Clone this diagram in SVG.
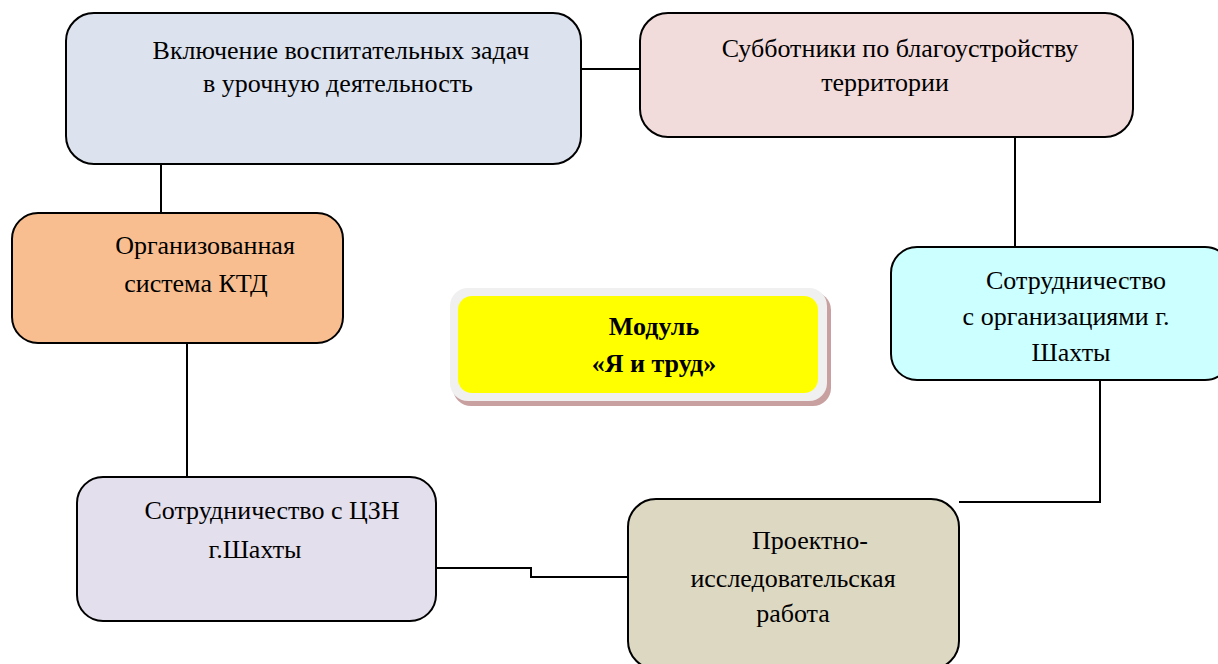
<svg xmlns="http://www.w3.org/2000/svg" width="1218" height="664" viewBox="0 0 1218 664">
<style>
.box{stroke:#000;stroke-width:2}
.t{font-family:"Liberation Serif","Times New Roman",serif;font-size:26px;fill:#000;text-anchor:middle}
.b{font-weight:bold;font-size:26px}
.c{fill:none;stroke:#000;stroke-width:2}
</style>
<rect width="1218" height="664" fill="#fff"/>
<g id="connectors">
<path class="c" d="M581 69H640"/>
<path class="c" d="M161 164V213"/>
<path class="c" d="M1015 137V247"/>
<path class="c" d="M187 343V477"/>
<path class="c" d="M436 568H531V577H628"/>
<path class="c" d="M959 502H1100V380"/>
</g>
<g id="n1">
<rect class="box" x="66" y="13" width="515" height="151" rx="28" fill="#dce3ef"/>
<text class="t" x="341" y="59">Включение воспитательных задач</text>
<text class="t" x="338" y="92">в урочную деятельность</text>
</g>
<g id="n2">
<rect class="box" x="640" y="13" width="493" height="124" rx="28" fill="#f2dcdb"/>
<text class="t" x="900" y="57">Субботники по благоустройству</text>
<text class="t" x="885" y="91">территории</text>
</g>
<g id="n3">
<rect class="box" x="12" y="213" width="331" height="130" rx="26" fill="#f8be90"/>
<text class="t" x="205" y="254">Организованная</text>
<text class="t" x="196" y="292">система КТД</text>
</g>
<g id="n4">
<rect class="box" x="891" y="247" width="340" height="133" rx="26" fill="#ccffff"/>
<text class="t" x="1076" y="289">Сотрудничество</text>
<text class="t" x="1066" y="325">с организациями г.</text>
<text class="t" x="1071" y="361">Шахты</text>
</g>
<g id="center">
<rect x="453" y="292" width="378" height="114" rx="18" fill="#c8a0a0"/>
<rect x="450" y="288" width="377" height="113" rx="18" fill="#f0f0f0"/>
<rect x="458" y="296" width="360" height="97" rx="14" fill="#ffff00"/>
<text class="t b" x="654" y="335">Модуль</text>
<text class="t b" x="654" y="372">«Я и труд»</text>
</g>
<g id="n5">
<rect class="box" x="77" y="477" width="359" height="144" rx="26" fill="#e4dfec"/>
<text class="t" x="272" y="519">Сотрудничество с ЦЗН</text>
<text class="t" x="255" y="558">г.Шахты</text>
</g>
<g id="n6">
<rect class="box" x="628" y="499" width="331" height="170" rx="28" fill="#ddd8c2"/>
<text class="t" x="810" y="549">Проектно-</text>
<text class="t" x="793" y="587">исследовательская</text>
<text class="t" x="793" y="622">работа</text>
</g>
</svg>
